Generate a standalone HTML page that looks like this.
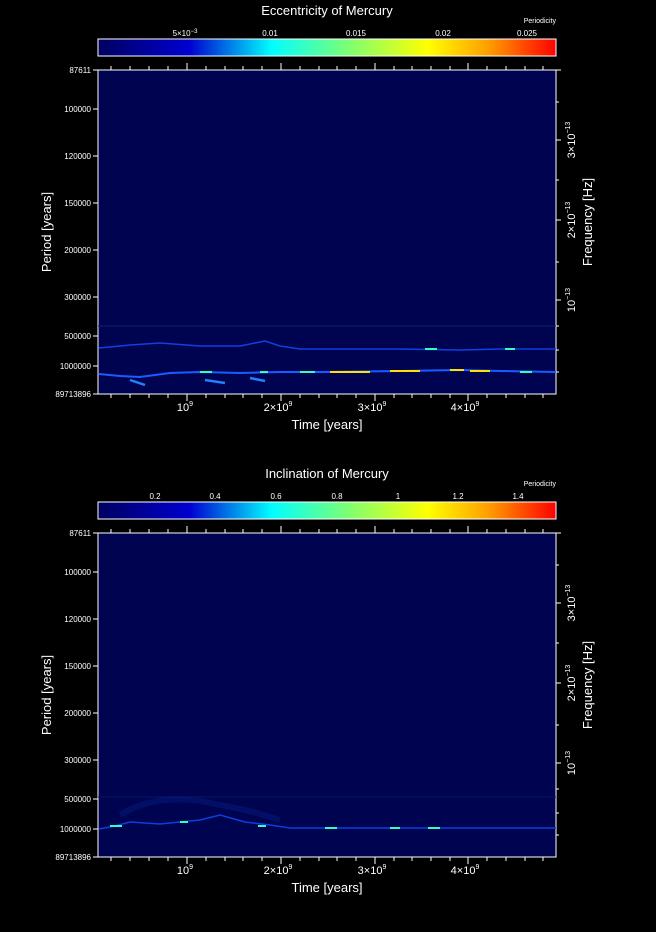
<!DOCTYPE html>
<html><head><meta charset="utf-8"><style>
body{margin:0;background:#000;width:656px;height:927px;overflow:hidden}
svg text{font-family:"Liberation Sans",sans-serif;fill:#fff}
</style></head><body>
<svg width="656" height="927" xmlns="http://www.w3.org/2000/svg">
<defs>
<linearGradient id="jet" x1="0" x2="1" y1="0" y2="0">
<stop offset="0" stop-color="#000060"/><stop offset="0.2" stop-color="#0000d0"/>
<stop offset="0.38" stop-color="#00ffff"/><stop offset="0.55" stop-color="#80ff70"/>
<stop offset="0.72" stop-color="#ffff00"/><stop offset="0.85" stop-color="#ffa000"/>
<stop offset="1" stop-color="#ff0000"/></linearGradient>
<g id="frame">
<rect x="98" y="70" width="458" height="324" fill="#00034f" stroke="#fff" stroke-width="1"/>
<g stroke="#fff" stroke-width="1">
<path d="M187 70v-7M281 70v-7M375 70v-7M468 70v-7M187 394v7M281 394v7M375 394v7M468 394v7"/>
<path d="M111 70v-4M130 70v-4M149 70v-4M168 70v-4M206 70v-4M225 70v-4M243 70v-4M262 70v-4M300 70v-4M319 70v-4M337 70v-4M356 70v-4M394 70v-4M412 70v-4M431 70v-4M450 70v-4M487 70v-4M506 70v-4M525 70v-4M543 70v-4"/>
<path d="M111 394v4M130 394v4M149 394v4M168 394v4M206 394v4M225 394v4M243 394v4M262 394v4M300 394v4M319 394v4M337 394v4M356 394v4M394 394v4M412 394v4M431 394v4M450 394v4M487 394v4M506 394v4M525 394v4M543 394v4"/>
<path d="M98 70h-5M98 109h-5M98 156h-5M98 203h-5M98 250h-5M98 297h-5M98 336h-5M98 366h-5M98 394h-5"/>
<path d="M556 70h5M556 102h3M556 140h5M556 180h3M556 220h5M556 262h3M556 300h5M556 326h3M556 350h3M556 372h3"/>
</g>
<g font-size="8" text-anchor="end">
<text x="91" y="73">87611</text><text x="91" y="112">100000</text><text x="91" y="159">120000</text>
<text x="91" y="206">150000</text><text x="91" y="253">200000</text><text x="91" y="300">300000</text>
<text x="91" y="339">500000</text><text x="91" y="369">1000000</text><text x="91" y="397">89713896</text>
</g>
<g font-size="11" text-anchor="middle">
<text x="185" y="411">10<tspan font-size="7" dy="-5">9</tspan></text>
<text x="278" y="411">2×10<tspan font-size="7" dy="-5">9</tspan></text>
<text x="372" y="411">3×10<tspan font-size="7" dy="-5">9</tspan></text>
<text x="465" y="411">4×10<tspan font-size="7" dy="-5">9</tspan></text>
<text x="327" y="429" font-size="13">Time [years]</text>
<text transform="translate(51 232) rotate(-90)" font-size="13">Period [years]</text>
<text transform="translate(592 222) rotate(-90)" font-size="13">Frequency [Hz]</text>
<text transform="translate(575 140) rotate(-90)">3×10<tspan font-size="7" dy="-5">−13</tspan></text>
<text transform="translate(575 220) rotate(-90)">2×10<tspan font-size="7" dy="-5">−13</tspan></text>
<text transform="translate(575 300) rotate(-90)">10<tspan font-size="7" dy="-5">−13</tspan></text>
</g>
<rect x="98" y="39" width="458" height="17" fill="url(#jet)" stroke="#fff"/>
<text x="556" y="23" font-size="7" text-anchor="end">Periodicity</text>
</g>
</defs>

<use href="#frame"/>
<text x="327" y="15" font-size="13" text-anchor="middle">Eccentricity of Mercury</text>
<g font-size="8" text-anchor="middle">
<text x="185" y="36">5×10<tspan font-size="6" dy="-3">−3</tspan></text>
<text x="270" y="36">0.01</text><text x="356" y="36">0.015</text><text x="443" y="36">0.02</text><text x="527" y="36">0.025</text>
</g>
<path d="M98 326H556" stroke="#0a2080" stroke-width="1"/>
<path d="M99 348L130 345 160 343 200 346 240 346 265 341 280 346 300 349 340 349 400 349 460 350 500 349 556 349" stroke="#1040e0" stroke-width="1.5" fill="none"/>
<path d="M99 374L120 376 140 377 170 373 200 372 240 373 280 372 320 372 400 371 460 370 500 371 556 372" stroke="#1a5cff" stroke-width="2" fill="none"/>
<path d="M330 372h40M390 371h30M450 370h14M470 371h20" stroke="#ffe000" stroke-width="2"/>
<path d="M200 372h12M260 372h8M300 372h15M520 372h12M425 349h12M505 349h10" stroke="#30ffc0" stroke-width="2"/>
<path d="M130 380l15 5M205 380l20 3M250 378l15 3" stroke="#2080ff" stroke-width="2.5"/>

<use href="#frame" y="463"/>
<text x="327" y="478" font-size="13" text-anchor="middle">Inclination of Mercury</text>
<g font-size="8" text-anchor="middle">
<text x="155" y="499">0.2</text><text x="215" y="499">0.4</text><text x="276" y="499">0.6</text>
<text x="337" y="499">0.8</text><text x="398" y="499">1</text><text x="458" y="499">1.2</text><text x="518" y="499">1.4</text>
</g>
<path d="M98 797H556" stroke="#061a60"/>
<path d="M120 815q40 -25 100 -10q30 5 60 15" stroke="#0a28a0" stroke-width="6" fill="none" opacity="0.3"/>
<path d="M99 829L115 826 130 822 160 824 200 820 220 815 245 822 270 825 290 828 350 828 420 828 480 828 556 828" stroke="#0a40e0" stroke-width="1.5" fill="none"/>
<path d="M110 826h12M180 822h8M258 826h8M325 828h12M390 828h10M428 828h12" stroke="#30ffc0" stroke-width="2"/>
</svg>
</body></html>
